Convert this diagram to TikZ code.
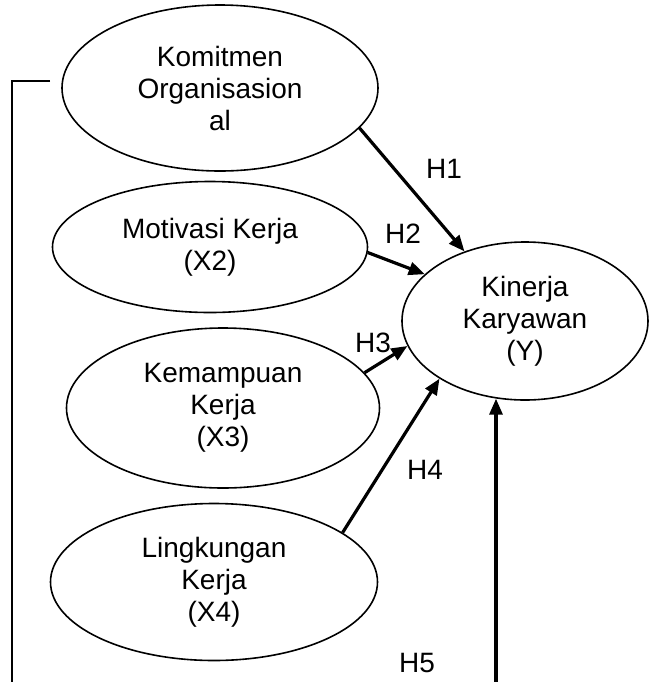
\documentclass[tikz,border=0pt]{standalone}
\usepackage{fontspec}
\setmainfont{Liberation Sans}
\usepackage{tikz}
\usetikzlibrary{arrows.meta}
\usetikzlibrary{shapes.geometric}
\tikzstyle{var}=[ellipse,draw,line width=.8pt,inner sep=0pt,align=center,font=\fontsize{14}{16}\selectfont]
\tikzstyle{hyp}=[line width=1.6pt,-{Triangle[length=8pt,width=6.5pt]}]
\tikzstyle{lbl}=[font=\fontsize{14}{16}\selectfont]

\begin{document}
\begin{tikzpicture}[x=.5pt,y=-.5pt]
  \useasboundingbox (0,0) rectangle (654,682);
  \node[var,minimum width=158pt,minimum height=83pt] (ko) at (220,88) {Komitmen\\Organisasion\\al};
  \node[var,minimum width=157.5pt,minimum height=65.5pt] (mk) at (210,247) {Motivasi Kerja\\(X2)};
  \node[var,minimum width=156.5pt,minimum height=80pt] (kk) at (223,408) {Kemampuan\\Kerja\\(X3)};
  \node[var,minimum width=163.5pt,minimum height=78.5pt] (lk) at (214,582) {Lingkungan\\Kerja\\(X4)};
  \node[var,minimum width=123pt,minimum height=79pt] (ky) at (525,321) {Kinerja\\Karyawan\\(Y)};
  % hipotesis
  \draw[hyp] (ko.-16) -- (ky.131);
  \draw[hyp] (mk.-2) -- (ky.155);
  \draw[hyp] (kk.14) -- (ky.192);
  \draw[hyp] (lk.21) -- (ky.214);
  \coordinate (k0) at (50,81);
  \coordinate (b0) at (12,682);
  \coordinate (b5) at (496,682);
  \draw[line width=.7pt] (k0) -- (b0 |- k0) -- (b0);
  \draw[hyp] (b5) -- (b5 |- ky.250);
  \node[lbl] (h1) at (444,169) {H1};
  \node[lbl] (h2) at (403,234) {H2};
  \node[lbl] (h3) at (373,343) {H3};
  \node[lbl] (h4) at (425,470) {H4};
  \node[lbl] (h5) at (417,663) {H5};
\end{tikzpicture}
\end{document}
